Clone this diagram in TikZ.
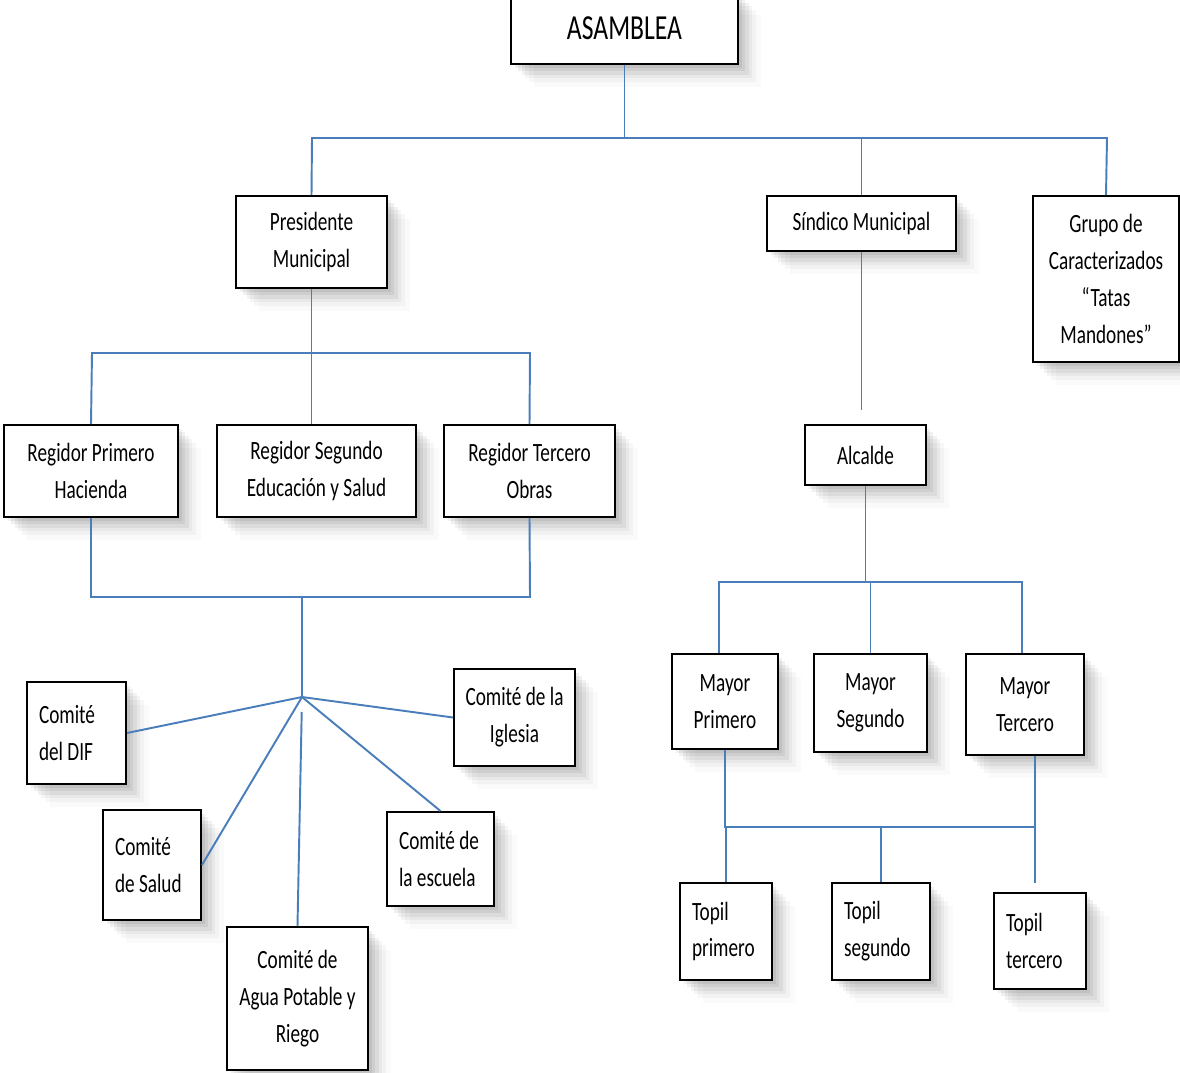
\documentclass[tikz,border=0pt]{standalone}
\usepackage{fontspec}
\setmainfont{Carlito}[FakeStretch=0.73]
\usepackage{tikz}
\usetikzlibrary{positioning, calc, shadows}
\definecolor{linkblue}{RGB}{74, 126, 187}
\newcommand{\orgfont}{\fontsize{15pt}{21pt}\selectfont}

\begin{document}
\begin{tikzpicture}[
    x=0.02cm, y=-0.02cm,
    org/.style 2 args={rectangle, draw=black, line width=1.1pt, fill=white, inner sep=0pt,
        minimum width=#1*0.02cm, minimum height=#2*0.02cm, align=center, font=\orgfont,
        drop shadow={shadow xshift=2pt, shadow yshift=-2pt, opacity=0.06, fill=black},
        drop shadow={shadow xshift=4pt, shadow yshift=-4pt, opacity=0.06, fill=black},
        drop shadow={shadow xshift=6pt, shadow yshift=-6pt, opacity=0.05, fill=black},
        drop shadow={shadow xshift=8pt, shadow yshift=-8pt, opacity=0.04, fill=black},
        drop shadow={shadow xshift=10pt, shadow yshift=-10pt, opacity=0.03, fill=black},
        drop shadow={shadow xshift=13pt, shadow yshift=-13pt, opacity=0.02, fill=black}},
    lorg/.style n args={3}{org={#1}{#2}, text width=#3, inner xsep=0.24cm, align=flush left},
    link/.style={draw=linkblue, line width=1.1pt}
]
    \useasboundingbox (0,0) rectangle (1180,1072);
    \fill[white] (0,0) rectangle (1180,1072);

    % Top level
    \node[org={227}{72}, font=\fontsize{20pt}{24pt}\selectfont] (asam) at (624.5,28) {ASAMBLEA};

    \node[org={151}{92}] (pres) at (311.5,242) {Presidente\\Municipal};
    \node[org={189}{55}] (sind) at (861.5,223.5) {Síndico Municipal};
    \node[org={146}{166}] (grupo) at (1106,279) {Grupo de\\Caracterizados\\“Tatas\\Mandones”};

    % Regidores
    \node[org={174}{92}] (reg1) at (91,471) {Regidor Primero\\Hacienda};
    \node[org={199}{92}] (reg2) at (316.5,471) {Regidor Segundo\\Educación y Salud};
    \node[org={171}{92}] (reg3) at (529.5,471) {Regidor Tercero\\Obras};

    % Comites
    \node[lorg={99}{102}{1.50cm}] (dif) at (76.5,733) {Comité\\del DIF};
    \node[lorg={98}{110}{1.48cm}] (salud) at (152,865) {Comité\\de Salud};
    \node[org={141}{143}] (agua) at (297.5,998.5) {Comité de\\Agua Potable y\\Riego};
    \node[lorg={107}{94}{1.66cm}] (escuela) at (440.5,859) {Comité de\\la escuela};
    \node[org={121}{97}] (iglesia) at (514.5,717.5) {Comité de la\\Iglesia};

    % Alcalde, mayores y topiles
    \node[org={121}{60}] (alc) at (865.5,455) {Alcalde};

    \node[org={106}{95}] (may1) at (725,701.5) {Mayor\\Primero};
    \node[org={113}{98}] (may2) at (870.5,703) {Mayor\\Segundo};
    \node[org={118}{101}] (may3) at (1025,704.5) {Mayor\\Tercero};

    \node[lorg={92}{97}{1.36cm}] (top1) at (726,931.5) {Topil\\primero};
    \node[lorg={98}{97}{1.48cm}] (top2) at (881,931.5) {Topil\\segundo};
    \node[lorg={92}{96}{1.36cm}] (top3) at (1040,941) {Topil\\tercero};

    % Bus coordinates
    \coordinate (busL) at (312,138);
    \coordinate (busR) at (1107,138);
    \coordinate (regL) at (92,353);
    \coordinate (regR) at (530,353);
    \coordinate (comL) at (91,597);
    \coordinate (comR) at (530,597);
    \coordinate (hub) at (302,697);
    \coordinate (mayL) at (719,582);
    \coordinate (mayR) at (1022,582);
    \coordinate (topiL) at (726,827);
    \coordinate (topiR) at (1035,827);

    % Lines
    \draw[link] (asam.south) -- (asam.south |- busL);
    \draw[link] (pres.north) -- (busL) -- (busR) -- (grupo.north);
    \draw[link] (sind.north) -- (sind.north |- busL);

    \draw[link] (pres.south) -- (pres.south |- reg2.north);
    \draw[link] (reg1.north) -- (regL) -- (regR) -- (reg3.north);

    \draw[link] (reg1.south) -- (comL) -- (comR) -- (reg3.south);
    \draw[link] (hub |- comL) -- (hub);
    \draw[link] (hub) -- (dif.east);
    \draw[link] (hub) -- (iglesia.west);
    \draw[link] (hub) -- (escuela.north);
    \draw[link] (hub) -- (salud.east);
    \draw[link, shorten <=0.3cm] (hub) -- (agua.north);

    \draw[link, shorten >=0.28cm] (sind.south) -- (sind.south |- alc.north);
    \draw[link] (alc.south) -- (alc.south |- mayL);
    \draw[link] (mayL |- may1.north) -- (mayL) -- (mayR) -- (mayR |- may3.north);
    \draw[link] (may2.north) -- (may2.north |- mayL);

    \draw[link] (may1.south) -- (may1.south |- topiL) -- (topiR) -- (topiR |- may3.south);
    \draw[link] (top1.north) -- (top1.north |- topiL);
    \draw[link] (top2.north) -- (top2.north |- topiL);
    \draw[link, shorten >=0.18cm] (topiR) -- (topiR |- top3.north);

\end{tikzpicture}
\end{document}
